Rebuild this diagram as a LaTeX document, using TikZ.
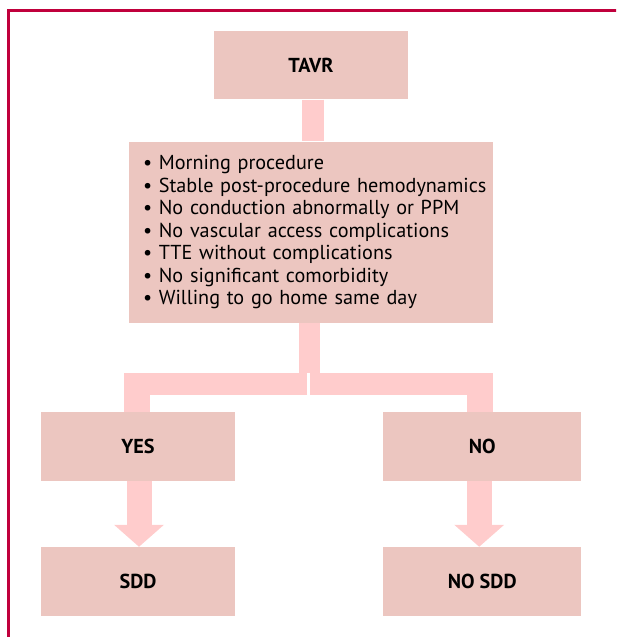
\documentclass[tikz,border=0pt]{standalone}
\usepackage{fontspec}
\setmainfont{PT Sans}
\usetikzlibrary{arrows.meta,calc}
\definecolor{boxfill}{HTML}{ECC6C0}
\definecolor{connfill}{HTML}{FFCCCC}
\definecolor{framecol}{HTML}{C0003C}
\begin{document}
\begin{tikzpicture}[x=1pt,y=-1pt,
  box/.style={fill=boxfill, draw=none, inner sep=0pt, text=black,
    font=\fontsize{20.2}{22.5}\selectfont\bfseries},
  conn/.style={draw=connfill, line width=#1},
  conn/.default=22pt,
  fatarrow/.style={draw=connfill, line width=25pt,
    -{Triangle[width=50pt,length=22pt,line width=0pt]}}]
\useasboundingbox (0,0) rectangle (616,637);
\begin{scope}
  \clip (0,0) rectangle (616,637);
  \draw[framecol, line width=2.5pt] (8.6,660) |- (640,10.5);
\end{scope}

% boxes
\node[box, minimum width=194pt, minimum height=68.5pt] (tavr) at (311,65.2) {TAVR};
\node[box, font=\fontsize{20.2}{22.5}\selectfont, minimum width=364pt, minimum height=181.5pt,
  text width=336pt, align=left] (crit) at (311,232.4)
  {\mbox{• Morning procedure}\\
   \mbox{• Stable post-procedure hemodynamics}\\
   \mbox{• No conduction abnormally or PPM}\\
   \mbox{• No vascular access complications}\\
   \mbox{• TTE without complications}\\
   \mbox{• No significant comorbidity}\\
   \mbox{• Willing to go home same day}};
\node[box, minimum width=194pt, minimum height=69pt] (yes) at (138,446.2) {YES};
\node[box, minimum width=198.5pt, minimum height=69pt] (no) at (482.2,446.2) {NO};
\node[box, minimum width=194pt, minimum height=68.7pt] (sdd) at (138,581.3) {SDD};
\node[box, minimum width=198.5pt, minimum height=68.7pt] (nosdd) at (482.2,581.3) {NO SDD};

% connectors
\draw[conn=22.5pt] ($(tavr.south)+(2,0)$) -- ($(crit.north)+(2,0)$);
\coordinate (bj) at (309.5,373);
\draw[conn=21.6pt] (crit.south -| bj) -- (bj);
\coordinate (bl) at (307,384);
\coordinate (lc) at (124,384);
\coordinate (lt) at (137.3,373);
\draw[conn=22pt] (bl) -- (lc);
\draw[conn=26pt] (lt) -- (lt |- yes.north);
\coordinate (br) at (310,384);
\coordinate (rc) at (493,384);
\coordinate (rt) at (480,373);
\draw[conn=22pt] (br) -- (rc);
\draw[conn=26pt] (rt) -- (rt |- no.north);

\draw[fatarrow] ($(yes.south)+(1,0)$) -- ($(sdd.north)+(1,0)$);
\draw[fatarrow] ($(no.south)+(-3,0)$) -- ($(nosdd.north)+(-3,0)$);
\end{tikzpicture}
\end{document}
